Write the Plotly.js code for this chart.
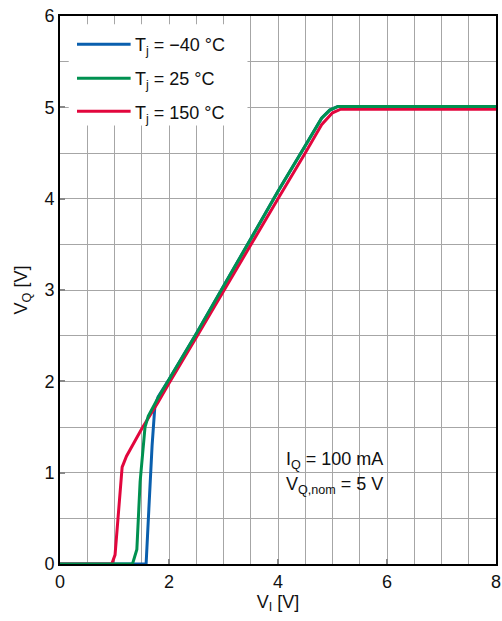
<!DOCTYPE html>
<html>
<head>
<meta charset="utf-8">
<script src="https://cdn.plot.ly/plotly-3.0.1.min.js"></script>
<style>
  html, body { margin: 0; padding: 0; background: #fff; }
  #chart { width: 502px; height: 621px; }
</style>
</head>
<body>
<div id="chart"></div>
<script>
// Output voltage V_Q versus input voltage V_I at three junction temperatures
const seriesNames = ['T<sub>j</sub> = \u221240 \u00b0C', 'T<sub>j</sub> = 25 \u00b0C', 'T<sub>j</sub> = 150 \u00b0C'];
const seriesColors = ['#0a5fae', '#009150', '#e2063d'];

const vIn_m40 = [0, 1.58, 1.63, 1.69, 1.74, 1.80, 2.0, 2.5, 3.0, 3.5, 4.0, 4.5, 4.8, 4.95, 5.1, 8];
const vOut_m40 = [0, 0, 0.60, 1.30, 1.72, 1.83, 2.02, 2.52, 3.04, 3.56, 4.08, 4.58, 4.88, 4.97, 5.01, 5.01];

const vIn_25 = [0, 1.33, 1.41, 1.47, 1.56, 1.62, 1.80, 2.0, 2.5, 3.0, 3.5, 4.0, 4.5, 4.8, 4.95, 5.1, 8];
const vOut_25 = [0, 0, 0.16, 0.90, 1.50, 1.62, 1.82, 2.02, 2.52, 3.04, 3.56, 4.08, 4.58, 4.88, 4.97, 5.01, 5.01];

const vIn_150 = [0, 0.95, 1.01, 1.08, 1.14, 1.22, 1.50, 1.80, 2.0, 2.5, 3.0, 3.5, 4.0, 4.5, 4.8, 5.0, 5.15, 8];
const vOut_150 = [0, 0, 0.10, 0.60, 1.06, 1.18, 1.48, 1.77, 1.98, 2.48, 2.99, 3.49, 4.0, 4.5, 4.81, 4.94, 4.98, 4.98];

const xTicks = [0, 2, 4, 6, 8];
const yTicks = [0, 1, 2, 3, 4, 5, 6];
const noteLines = ['I<sub>Q</sub> = 100 mA', 'V<sub>Q,nom</sub> = 5 V'];

const xs = [vIn_m40, vIn_25, vIn_150];
const ys = [vOut_m40, vOut_25, vOut_150];

const traces = xs.map((x, i) => ({
  type: 'scatter', mode: 'lines', x: x, y: ys[i], name: seriesNames[i],
  line: { color: seriesColors[i], width: 3 }, showlegend: false,
  hoverinfo: 'skip'
}));
// blue first, then red, green on top
const order = [traces[0], traces[2], traces[1]];

const font = { family: 'Liberation Sans, Arial, Helvetica, sans-serif', size: 18, color: '#111' };

// Legend box drawn in paper coordinates
const shapes = [{
  type: 'rect', xref: 'paper', yref: 'paper', x0: 0.02, x1: 0.43, y0: 0.80, y1: 0.985,
  fillcolor: '#fff', line: { width: 0 }, layer: 'above'
}];
const annotations = [];
const legendY = [0.9485, 0.8865, 0.826];
seriesNames.forEach((name, i) => {
  shapes.push({
    type: 'line', xref: 'paper', yref: 'paper', x0: 0.039, x1: 0.162,
    y0: legendY[i], y1: legendY[i], line: { color: seriesColors[i], width: 3 }, layer: 'above'
  });
  annotations.push({
    xref: 'paper', yref: 'paper', x: 0.168, y: legendY[i] - 0.005, xanchor: 'left', yanchor: 'middle',
    text: name, showarrow: false, font: font
  });
});
annotations.push({
  xref: 'x', yref: 'y', x: 4.11, y: 1.13, xanchor: 'left', yanchor: 'middle',
  text: noteLines[0], showarrow: false, font: font
});
annotations.push({
  xref: 'x', yref: 'y', x: 4.11, y: 0.86, xanchor: 'left', yanchor: 'middle',
  text: noteLines[1], showarrow: false, font: font
});

const layout = {
  width: 502, height: 621,
  margin: { l: 60, r: 6, t: 16, b: 57 },
  paper_bgcolor: '#fff', plot_bgcolor: '#fff',
  font: font,
  showlegend: false,
  xaxis: {
    range: [0, 8], tickvals: xTicks, ticktext: xTicks.map(String),
    showgrid: true, gridcolor: '#a6a6a6', gridwidth: 1,
    minor: { dtick: 0.5, tick0: 0, showgrid: true, gridcolor: '#a6a6a6', gridwidth: 1, ticks: '' },
    ticks: 'inside', ticklen: 5, tickwidth: 2, tickcolor: '#888',
    showline: true, linecolor: '#000', linewidth: 2, mirror: true,
    zeroline: false, tickfont: font,
    title: { text: 'V<sub>I</sub> [V]', font: font, standoff: 2 }
  },
  yaxis: {
    range: [0, 6], tickvals: yTicks, ticktext: yTicks.map(String),
    showgrid: true, gridcolor: '#a6a6a6', gridwidth: 1,
    minor: { dtick: 0.5, tick0: 0, showgrid: true, gridcolor: '#a6a6a6', gridwidth: 1, ticks: '' },
    ticks: 'inside', ticklen: 5, tickwidth: 2, tickcolor: '#888',
    showline: true, linecolor: '#000', linewidth: 2, mirror: true,
    zeroline: false, tickfont: font,
    title: { text: 'V<sub>Q</sub> [V]', font: font, standoff: 12 }
  },
  shapes: shapes,
  annotations: annotations
};

Plotly.newPlot('chart', order, layout, { staticPlot: true, displayModeBar: false });
</script>
</body>
</html>
